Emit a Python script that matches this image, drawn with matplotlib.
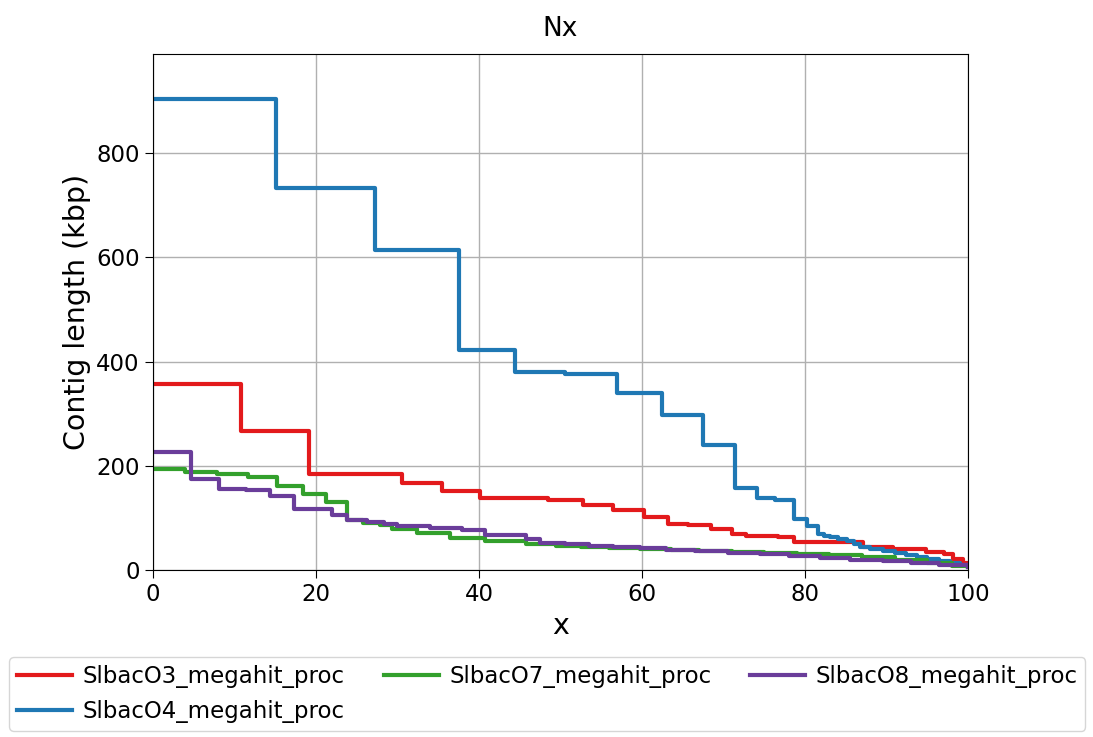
import matplotlib
matplotlib.use("Agg")
import matplotlib.pyplot as plt

# ---- data (x in %, contig length in kbp) ----
labels = ["SlbacO3_megahit_proc", "SlbacO4_megahit_proc",
          "SlbacO7_megahit_proc", "SlbacO8_megahit_proc"]
colors = ["#E31A1C", "#1F78B4", "#33A02C", "#6A3D9A"]

o3_x = [0, 10.8, 19.1, 30.5, 35.5, 40.1, 48.5, 52.7, 56.5, 60.2, 63.2, 65.7,
        68.5, 71.1, 72.8, 76.7, 78.6, 87.1, 90.8, 94.9, 97.0, 98.2, 99.4, 100]
o3_y = [356, 267, 184, 166, 151, 139, 135, 125, 115, 102, 89, 86,
        79, 69, 66, 62.5, 54, 44.5, 39.5, 35, 30.5, 22, 14, 8]

o4_x = [0, 15.1, 27.2, 37.5, 44.4, 50.6, 56.9, 62.5, 67.5, 71.4, 74.1, 76.3,
        78.6, 80.2, 81.6, 82.3, 83.1, 84.1, 85.1, 86.0, 86.7, 88.0, 89.6,
        91.0, 92.4, 93.7, 95.0, 96.4, 97.8, 99.0, 100]
o4_y = [903, 733, 614, 423, 380, 377, 339, 297, 240, 157, 138, 134,
        98, 84, 70, 66, 63, 59, 55, 50, 44.5, 40.5, 37, 33, 29, 25.5, 22, 18,
        14, 10, 6]

o7_x = [0, 3.9, 7.8, 11.6, 15.2, 18.4, 21.2, 23.8, 25.8, 27.9, 29.3, 32.4,
        36.4, 40.7, 45.8, 49.5, 52.5, 56.0, 59.8, 63.5, 67.0, 71.0, 75.0,
        79.0, 83.0, 87.0, 91.0, 95.0, 98.0, 100]
o7_y = [193, 188, 185, 178, 161, 146, 130, 96, 90, 86, 78, 71,
        61, 56, 50, 47, 45, 43, 40, 38, 36, 34.5, 33, 31, 28, 24, 19, 13, 8, 5]

o8_x = [0, 4.7, 8.1, 11.4, 14.4, 17.3, 22.0, 23.8, 26.2, 28.3, 29.9, 34.0,
        37.9, 40.7, 45.8, 47.5, 50.5, 53.5, 56.5, 59.8, 63.0, 66.5, 70.5,
        74.5, 78.0, 81.8, 85.5, 89.6, 93.0, 96.5, 100]
o8_y = [226, 174, 156, 153, 142, 117, 105, 96, 92, 89, 84, 81,
        77, 68, 59, 52, 49, 46, 44, 41.5, 39, 36, 33, 30.5, 27, 22.5, 20,
        17.5, 13, 9, 5]

xs = [o3_x, o4_x, o7_x, o8_x]
ys = [o3_y, o4_y, o7_y, o8_y]

xticks = [0, 20, 40, 60, 80, 100]
yticks = [0, 200, 400, 600, 800]

# ---- figure ----
W, H = 1093, 737
fig = plt.figure(figsize=(W / 100, H / 100), dpi=100)
ax = fig.add_axes([153 / W, 1 - 570 / H, (968 - 153) / W, (570 - 54) / H])

for x, y, c, lab in zip(xs, ys, colors, labels):
    ax.step(x, y, where="post", color=c, lw=3, label=lab)

ax.set_xlim(0, 100)
ax.set_ylim(0, 990)
ax.set_xticks(xticks)
ax.set_yticks(yticks)
ax.tick_params(labelsize=16.5, length=6)
ax.grid(True, color="#b0b0b0", lw=1)
ax.set_axisbelow(True)
ax.set_xlabel("x", fontsize=20.5)
ax.set_ylabel("Contig length (kbp)", fontsize=20.5)
ax.set_title("Nx", fontsize=19, pad=13)

fig.legend(*ax.get_legend_handles_labels(), loc="upper left",
           bbox_to_anchor=(-2 / W, 1 - 646 / H), ncol=3, fontsize=16.5,
           frameon=True, handlelength=2.4, handletextpad=0.45,
           columnspacing=1.7, borderpad=0.35)

fig.savefig("out.png", dpi=100)
